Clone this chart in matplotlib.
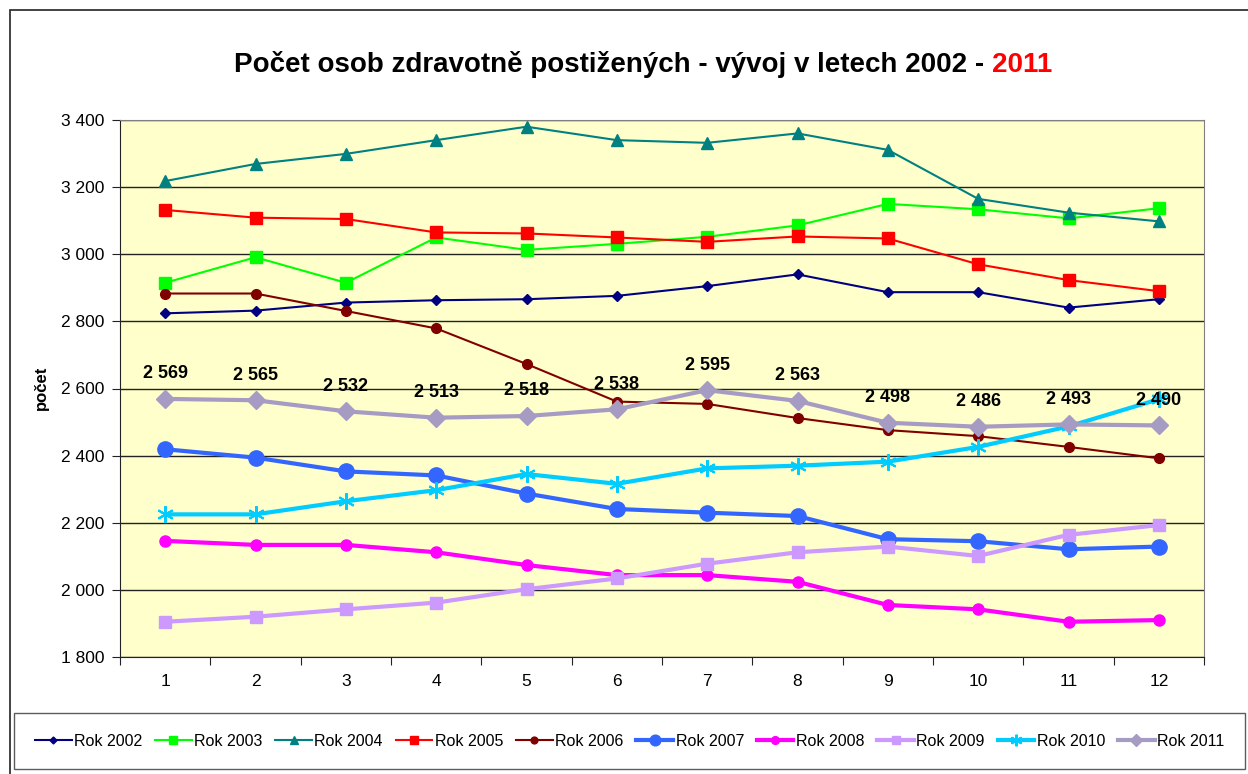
import matplotlib.pyplot as plt
from matplotlib.ticker import FuncFormatter, FixedLocator, NullFormatter
from matplotlib.patches import Rectangle
import numpy as np

plt.rcParams['font.family'] = ['Liberation Sans', 'DejaVu Sans']

#%% data
months = [1, 2, 3, 4, 5, 6, 7, 8, 9, 10, 11, 12]

rok_2002 = [2824, 2832, 2856, 2863, 2866, 2876, 2905, 2940, 2887, 2887, 2841, 2866]
rok_2003 = [2915, 2991, 2915, 3050, 3013, 3031, 3052, 3086, 3150, 3134, 3107, 3137]
rok_2004 = [3218, 3269, 3299, 3340, 3380, 3340, 3332, 3360, 3311, 3165, 3124, 3098]
rok_2005 = [3132, 3109, 3105, 3065, 3062, 3050, 3037, 3053, 3047, 2970, 2923, 2890]
rok_2006 = [2883, 2883, 2831, 2779, 2673, 2561, 2554, 2512, 2476, 2458, 2426, 2392]
rok_2007 = [2419, 2394, 2353, 2341, 2287, 2241, 2230, 2220, 2151, 2145, 2121, 2129]
rok_2008 = [2146, 2134, 2134, 2112, 2074, 2044, 2044, 2024, 1955, 1942, 1905, 1910]
rok_2009 = [1905, 1920, 1942, 1962, 2002, 2034, 2078, 2112, 2129, 2101, 2164, 2193]
rok_2010 = [2225, 2225, 2264, 2297, 2345, 2316, 2362, 2370, 2382, 2426, 2487, 2568]
rok_2011 = [2569, 2565, 2532, 2513, 2518, 2538, 2595, 2563, 2498, 2486, 2493, 2490]

labels = ['Rok 2002', 'Rok 2003', 'Rok 2004', 'Rok 2005', 'Rok 2006',
          'Rok 2007', 'Rok 2008', 'Rok 2009', 'Rok 2010', 'Rok 2011']

#%% styles: color, marker, markersize, linewidth
styles = [
    ('#000080', 'D', 5, 1.5),
    ('#00FF00', 's', 8, 1.5),
    ('#008080', '^', 8, 1.5),
    ('#FF0000', 's', 8, 1.5),
    ('#800000', 'o', 7, 1.5),
    ('#3366FF', 'o', 11, 3),
    ('#FF00FF', 'o', 8, 3),
    ('#CC99FF', 's', 9, 3),
    ('#00CCFF', (6, 2, 0), 12, 3),
    ('#A69BC2', 'D', 9, 3),
]
series = [rok_2002, rok_2003, rok_2004, rok_2005, rok_2006,
          rok_2007, rok_2008, rok_2009, rok_2010, rok_2011]

fig = plt.figure(figsize=(12.48, 7.74), dpi=100)
W, H = 1248, 774
ax = fig.add_axes([120 / W, 1 - 657 / H, (1204 - 120) / W, (657 - 120) / H])
ax.set_facecolor('#FFFFCC')

handles = []
for vals, (c, m, ms, lw), lab in zip(series, styles, labels):
    if isinstance(m, tuple):
        h, = ax.plot(months, vals, color=c, lw=lw, marker=m, ms=ms, mec=c, mew=1.5, label=lab)
    else:
        h, = ax.plot(months, vals, color=c, lw=lw, marker=m, ms=ms, mec=c, label=lab)
    handles.append(h)

for x, v in zip(months, rok_2011):
    ax.annotate(f'{v // 1000} {v % 1000:03d}', (x, v), xytext=(0, 12), textcoords='offset points',
                ha='center', va='bottom', fontsize=13, fontweight='bold')

ax.set_xlim(0.5, 12.5)
ax.set_ylim(1800, 3400)
ax.set_yticks(np.arange(1800, 3401, 200))
ax.yaxis.set_major_formatter(FuncFormatter(lambda v, p: f'{int(v) // 1000} {int(v) % 1000:03d}'))
ax.grid(axis='y', color='#222222', lw=1)
ax.set_axisbelow(True)

ax.xaxis.set_major_locator(FixedLocator(np.arange(0.5, 12.6, 1)))
ax.xaxis.set_major_formatter(NullFormatter())
ax.xaxis.set_minor_locator(FixedLocator(months))
ax.xaxis.set_minor_formatter(FuncFormatter(lambda v, p: str(int(round(v)))))
ax.tick_params(axis='x', which='minor', length=0, labelsize=12.5, pad=12)
ax.tick_params(axis='x', which='major', length=6, color='#222222', direction='out')
ax.tick_params(axis='y', length=6, labelsize=12.5, color='#222222', pad=5)
for s in ['top', 'right']:
    ax.spines[s].set_color('#808080')
for s in ['left', 'bottom']:
    ax.spines[s].set_color('#222222')

fig.text(41 / W, 1 - 388 / H, 'počet', rotation=90, fontsize=12, fontweight='bold',
         ha='center', va='center')

# title with the last year in red
t1 = fig.text(0.5, 1 - 65 / H, 'Počet osob zdravotně postižených - vývoj v letech 2002 - ',
              fontsize=20, fontweight='bold', ha='center', va='center')
fig.canvas.draw()
bb = t1.get_window_extent()
t2 = fig.text(0, 1 - 65 / H, '2011', fontsize=20, fontweight='bold', color='#FF0000', va='center')
b2 = t2.get_window_extent()
total = bb.width + b2.width
x0 = 643 - total / 2
t1.set_ha('left')
t1.set_x(x0 / W)
t2.set_x((x0 + bb.width) / W)

# legend box spans the reference frame (14..1245, 713..769)
leg = fig.legend(handles=handles, loc='center', ncol=10, mode='expand',
                 bbox_to_anchor=(14 / W, 1 - 769 / H, (1245 - 14) / W, 56 / H),
                 fontsize=11.5, frameon=True, fancybox=False, edgecolor='#333333',
                 handlelength=2.3, handletextpad=0.15, columnspacing=0.4, borderpad=1.3,
                 borderaxespad=0, markerscale=0.7)
leg.get_frame().set_linewidth(1)

fig.patches.append(Rectangle((10 / W, -0.1), 1.2, 1 - 10 / H + 0.1, transform=fig.transFigure,
                             fill=False, edgecolor='#222222', lw=1.2))

fig.savefig('out.png', dpi=100)
